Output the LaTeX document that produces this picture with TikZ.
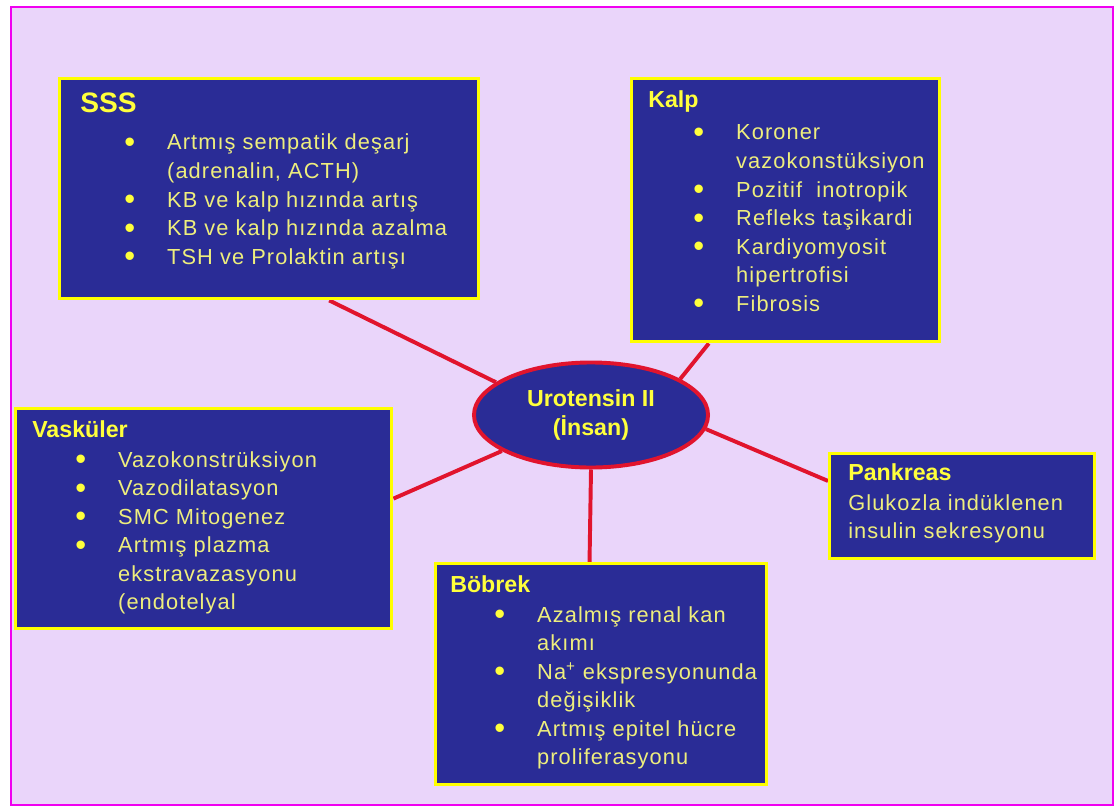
\documentclass[tikz,border=0pt]{standalone}
\usepackage{fontspec}
\setmainfont{Liberation Sans}
\newfontfamily\boxfont[LetterSpace=5]{Liberation Sans}
\usetikzlibrary{calc}
\usetikzlibrary{backgrounds}
\usepgflibrary{shapes.geometric}

\definecolor{pagelav}{RGB}{234,213,250}
\definecolor{rimmagenta}{RGB}{240,0,240}
\definecolor{boxnavy}{RGB}{42,44,150}
\definecolor{boxyellow}{RGB}{255,255,0}
\definecolor{linkred}{RGB}{225,20,45}
\definecolor{headyellow}{RGB}{255,255,60}
\definecolor{bodyyellow}{RGB}{238,238,125}

\newcommand\bl{\makebox[30.5pt][l]{\raisebox{-2pt}{\fontsize{22}{20}\selectfont\color{headyellow}•}}}
\newcommand\cl{\hspace*{30.5pt}}

\tikzset{
  organbox/.style={draw=boxyellow, line width=2.4pt, fill=boxnavy, anchor=north west, inner sep=0pt},
  headtxt/.style={anchor=base west, inner sep=0pt, text=headyellow, font=\bfseries\fontsize{16.5}{20}\selectfont},
  bodytxt/.style={anchor=base west, inner sep=0pt, text=bodyyellow, font=\boxfont\fontsize{15.5}{20.27}\selectfont},
  link/.style={draw=linkred, line width=2.8pt}
}

\begin{document}
\begin{tikzpicture}[x=0.025cm, y=-0.025cm]
          \useasboundingbox (0,0) rectangle (1115,807);

          % organ boxes
          \node[organbox, minimum width=10.475cm, minimum height=5.5cm] (sss) at (58,77) {};
          \node[organbox, minimum width=7.7cm, minimum height=6.575cm] (kalp) at (630,77) {};
          \node[organbox, minimum width=9.4cm, minimum height=5.5cm] (vask) at (14,407) {};
          \node[organbox, minimum width=8.275cm, minimum height=5.525cm] (bobrek) at (434,562) {};
          \node[organbox, minimum width=6.625cm, minimum height=2.625cm] (pank) at (828,452) {};

          \node[ellipse, draw=linkred, line width=2.8pt, fill=boxnavy, text=headyellow,
                minimum width=5.85cm, minimum height=2.625cm, align=center,
                font=\bfseries\fontsize{16.5}{21.3}\selectfont] (ut) at (591,415)
                {Urotensin II\\(İnsan)};

          % SSS
          \node[headtxt, font=\bfseries\fontsize{20}{24}\selectfont] (sssh) at ($(sss.north west)+(22,36)$) {SSS};
          \node[bodytxt] (sssb) at ($(sss.north west)+(66,73)$) {\parbox[t]{10cm}{%
            \bl Artmış sempatik deşarj\\
            \cl (adrenalin, ACTH)\\
            \bl KB ve kalp hızında artış\\
            \bl KB ve kalp hızında azalma\\
            \bl TSH ve Prolaktin artışı}};

          % Kalp
          \node[headtxt] (kalph) at ($(kalp.north west)+(18,31)$) {Kalp};
          \node[bodytxt] (kalpb) at ($(kalp.north west)+(63,63)$) {\parbox[t]{8cm}{%
            \bl Koroner\\
            \cl vazokonstüksiyon\\
            \bl Pozitif~ inotropik\\
            \bl Refleks taşikardi\\
            \bl Kardiyomyosit\\
            \cl hipertrofisi\\
            \bl Fibrosis}};

          % Vaskuler
          \node[headtxt] (vaskh) at ($(vask.north west)+(18,30)$) {Vasküler};
          \node[bodytxt] (vaskb) at ($(vask.north west)+(61,60)$) {\parbox[t]{8cm}{%
            \bl Vazokonstrüksiyon\\
            \bl Vazodilatasyon\\
            \bl SMC Mitogenez\\
            \bl Artmış plazma\\
            \cl ekstravazasyonu\\
            \cl (endotelyal}};

          % Bobrek
          \node[headtxt] (bobrekh) at ($(bobrek.north west)+(16,30)$) {Böbrek};
          \node[bodytxt] (bobrekb) at ($(bobrek.north west)+(60,60)$) {\parbox[t]{8cm}{%
            \bl Azalmış renal kan\\
            \cl akımı\\
            \bl Na\textsuperscript{+} ekspresyonunda\\
            \cl değişiklik\\
            \bl Artmış epitel hücre\\
            \cl proliferasyonu}};

          % Pankreas
          \node[headtxt] (pankh) at ($(pank.north west)+(20,28)$) {Pankreas};
          \node[bodytxt] (pankb) at ($(pank.north west)+(20,58)$) {\parbox[t]{6cm}{%
            Glukozla indüklenen\\
            insulin sekresyonu}};

          \begin{scope}[on background layer]
          \filldraw[fill=pagelav, draw=rimmagenta, line width=2.1pt] (11,7) rectangle (1113,805);
          \draw[link] ($(sss.south west)!0.642!(sss.south east)$) -- (ut.161);
          \draw[link] ($(kalp.south west)!0.253!(kalp.south east)$) -- (ut.22);
          \draw[link] ($(vask.north east)!0.41!(vask.south east)$) -- (ut.202);
          \draw[link] ($(pank.north west)!0.267!(pank.south west)$) -- (ut.-7);
          \draw[link] ($(bobrek.north west)!0.465!(bobrek.north east)$) -- (ut.south);
          \end{scope}

        \end{tikzpicture}
\end{document}
